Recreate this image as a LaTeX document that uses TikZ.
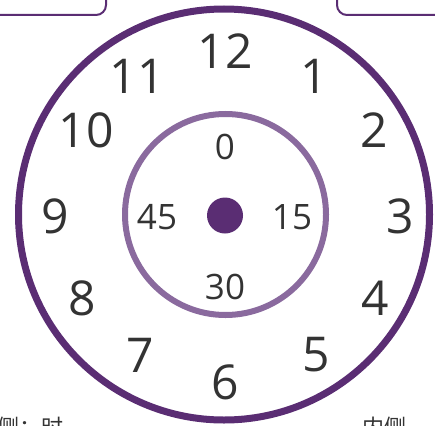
\documentclass[tikz,border=0pt]{standalone}
\usepackage{fontspec}
\setmainfont{Open Sans}
\newfontfamily\cjk{Noto Sans CJK SC}
\definecolor{dpurple}{HTML}{5A2D73}
\definecolor{lpurple}{HTML}{8A6A9E}
\definecolor{numgray}{HTML}{333333}
\begin{document}
\begin{tikzpicture}[x=1pt,y=-1pt,
  hournum/.style={text=numgray,inner sep=0pt,font=\fontsize{48}{48}\selectfont},
  minnum/.style={text=numgray,inner sep=0pt,font=\fontsize{35}{35}\selectfont},
  tabline/.style={draw=dpurple,line width=2pt,rounded corners=10pt},
  cjklabel/.style={text=numgray,inner sep=0pt,anchor=north west,font=\cjk\fontsize{22}{22}\selectfont}]
\useasboundingbox (0,0) rectangle (435,425);
\clip (0,0) rectangle (435,425);
% top tabs
\draw[tabline] (-20,15) -- (106,15) -- (106,-20);
\draw[tabline] (455,15) -- (337,15) -- (337,-20);
% circles
\node[circle,draw=dpurple,line width=7pt,inner sep=0pt,minimum size=411pt] (outer) at (224,214.5) {};
\node[circle,draw=lpurple,line width=6pt,inner sep=0pt,minimum size=201pt] (inner) at (225.5,214.5) {};
\node[circle,fill=dpurple,inner sep=0pt,minimum size=36pt] (hub) at (225,215.5) {};
% hours
\node[hournum] (h12) at (225,51) {12};
\node[hournum] (h1) at (314,76) {1};
\node[hournum] (h2) at (374,130) {2};
\node[hournum] (h3) at (400,216) {3};
\node[hournum] (h4) at (375,298) {4};
\node[hournum] (h5) at (316,355) {5};
\node[hournum] (h6) at (225,382) {6};
\node[hournum] (h7) at (140,355) {7};
\node[hournum] (h8) at (82,298) {8};
\node[hournum] (h9) at (55,216) {9};
\node[hournum] (h10) at (86,130) {10};
\node[hournum] (h11) at (137,76) {11};
% minutes
\node[minnum] (m0) at (225,147) {0};
\node[minnum] (m15) at (292,217) {15};
\node[minnum] (m30) at (225,287) {30};
\node[minnum] (m45) at (157,217) {45};
% cut-off labels at the bottom
\node[cjklabel] (lblL) at (-3,417) {侧：时};
\node[cjklabel] (lblR) at (362,417) {内侧};
\end{tikzpicture}
\end{document}
